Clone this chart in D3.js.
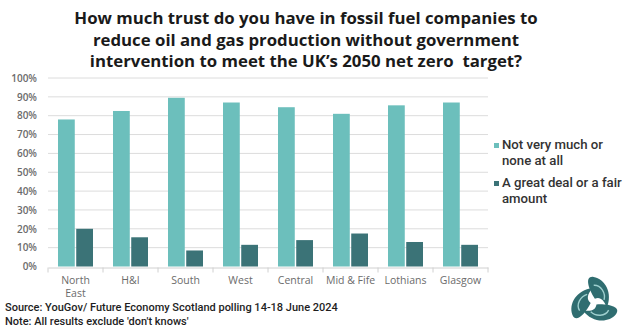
<!DOCTYPE html>
<html><head><meta charset="utf-8">
<script src="https://cdn.jsdelivr.net/npm/d3@7"></script>
<style>body{margin:0;background:#fff}svg{display:block}</style>
</head><body>
<svg id="c" width="634" height="327"></svg>
<script>
const categories = [["North","East"],["H&I"],["South"],["West"],["Central"],["Mid & Fife"],["Lothians"],["Glasgow"]];
const seriesNames = ["Not very much or none at all","A great deal or a fair amount"];
const notMuch = [78, 82.5, 89.5, 87, 84.5, 81, 85.5, 87];
const greatDeal = [20, 15.5, 8.5, 11.5, 14, 17.5, 13, 11.5];
const yTicks = [0,10,20,30,40,50,60,70,80,90,100];
const colors = ["#6cbfbc","#3b7377"];
const titleLines = ["How much trust do you have in fossil fuel companies to","reduce oil and gas production without government","intervention to meet the UK\u2019s 2050 net zero\u00a0 target?"];
const legendLines = [["Not very much or","none at all"],["A great deal or a fair","amount"]];
const footLines = ["Source: YouGov/ Future Economy Scotland polling 14-18 June 2024","Note: All results exclude 'don't knows'"];

const svg = d3.select("#c");
const font = "'Open Sans', sans-serif";
const font2 = "Roboto, sans-serif";
const keys = categories.map(c => c.join(" "));
const x = d3.scaleBand().domain(keys).range([48,488]);
const xs = d3.scaleBand().domain(seriesNames).range([10, x.bandwidth()-10]).paddingInner(0.08);
const y = d3.scaleLinear().domain([0,100]).range([266.5, 78]);

// title
svg.append("g").selectAll("text").data(titleLines).join("text")
  .attr("x", 306).attr("y", (d,i)=>24 + i*21.5).attr("text-anchor","middle")
  .attr("font-family",font).attr("font-weight",700).attr("font-size",16.8).attr("fill","#1a1a1a")
  .text(d=>d);

// gridlines
svg.append("g").selectAll("line").data(yTicks.filter(t=>t>0)).join("line")
  .attr("x1",48).attr("x2",488).attr("y1",d=>y(d)).attr("y2",d=>y(d))
  .attr("stroke","#dcdcdc").attr("stroke-width",1);

// y labels
const yAxis = svg.append("g").attr("transform","translate(48,0)")
  .call(d3.axisLeft(y).tickValues(yTicks).tickFormat(d=>d+"%").tickSize(0).tickPadding(11));
yAxis.select(".domain").remove();
yAxis.selectAll("text").attr("font-family",font).attr("font-size",10).attr("font-weight",600).attr("fill","#6b6b6b");

// bars
const data = keys.map((k,i)=>({k, vals:[notMuch[i], greatDeal[i]]}));
const grp = svg.append("g").selectAll("g").data(data).join("g")
  .attr("transform", d=>`translate(${x(d.k)},0)`);
grp.selectAll("rect").data(d=>d.vals.map((v,j)=>({s:seriesNames[j], v, j}))).join("rect")
  .attr("x", d=>xs(d.s)).attr("width", xs.bandwidth())
  .attr("y", d=>y(d.v)).attr("height", d=>y(0)-y(d.v))
  .attr("fill", d=>colors[d.j]);

// x axis
const xAxis = svg.append("g").attr("transform",`translate(0,${y(0)+1})`)
  .call(d3.axisBottom(x).tickSize(0).tickFormat(""));
xAxis.select(".domain").attr("stroke","#d0d0d0");
svg.append("g").selectAll("line").data(d3.range(keys.length+1)).join("line")
  .attr("x1",i=>48+i*x.step()).attr("x2",i=>48+i*x.step())
  .attr("y1",y(0)+1).attr("y2",y(0)+6).attr("stroke","#d0d0d0");
const xl = svg.append("g").selectAll("text").data(categories).join("text")
  .attr("x",(d,i)=>x(keys[i])+x.bandwidth()/2).attr("y",284)
  .attr("text-anchor","middle").attr("font-family",font).attr("font-size",10.5).attr("font-weight",500).attr("fill","#6b6b6b");
xl.selectAll("tspan").data(d=>d).join("tspan")
  .attr("x",function(){return this.parentNode.getAttribute("x");})
  .attr("dy",(d,i)=>i?13:0).text(d=>d);

// legend
const lg = svg.append("g").selectAll("g").data(legendLines).join("g")
  .attr("transform",(d,i)=>`translate(494,${149 + i*38})`);
lg.append("rect").attr("x",0).attr("y",-6).attr("width",5).attr("height",5).attr("fill",(d,i)=>colors[i]);
lg.selectAll("text").data(d=>d).join("text")
  .attr("x",8).attr("y",(d,i)=>i*15.5)
  .attr("font-family",font2).attr("font-size",13.2).attr("font-weight",500).attr("fill","#333")
  .text(d=>d);

// footnotes
svg.append("g").selectAll("text").data(footLines).join("text")
  .attr("x",5).attr("y",(d,i)=>311+i*13.5).attr("font-family",font2).attr("font-size",11).attr("font-weight",500).attr("fill","#1e1e1e")
  .text(d=>d);

// logo (triskele approximation)
const logo = svg.append("g").attr("transform","translate(594,302) scale(1.15)");
for (let k=0;k<3;k++){
  const g = logo.append("g").attr("transform",`rotate(${k*120+15})`);
  g.append("path").attr("d","M0,-3 C-8,-10 -14,-20 -6,-21 C4,-22 14,-12 12,2 C8,-4 4,-6 0,-3 Z").attr("fill","#2f6d70");
  g.append("path").attr("d","M-4,-14 C2,-16 8,-10 8,-4").attr("fill","none").attr("stroke","#9fd0cf").attr("stroke-width",1.2);
}
</script>
</body></html>
